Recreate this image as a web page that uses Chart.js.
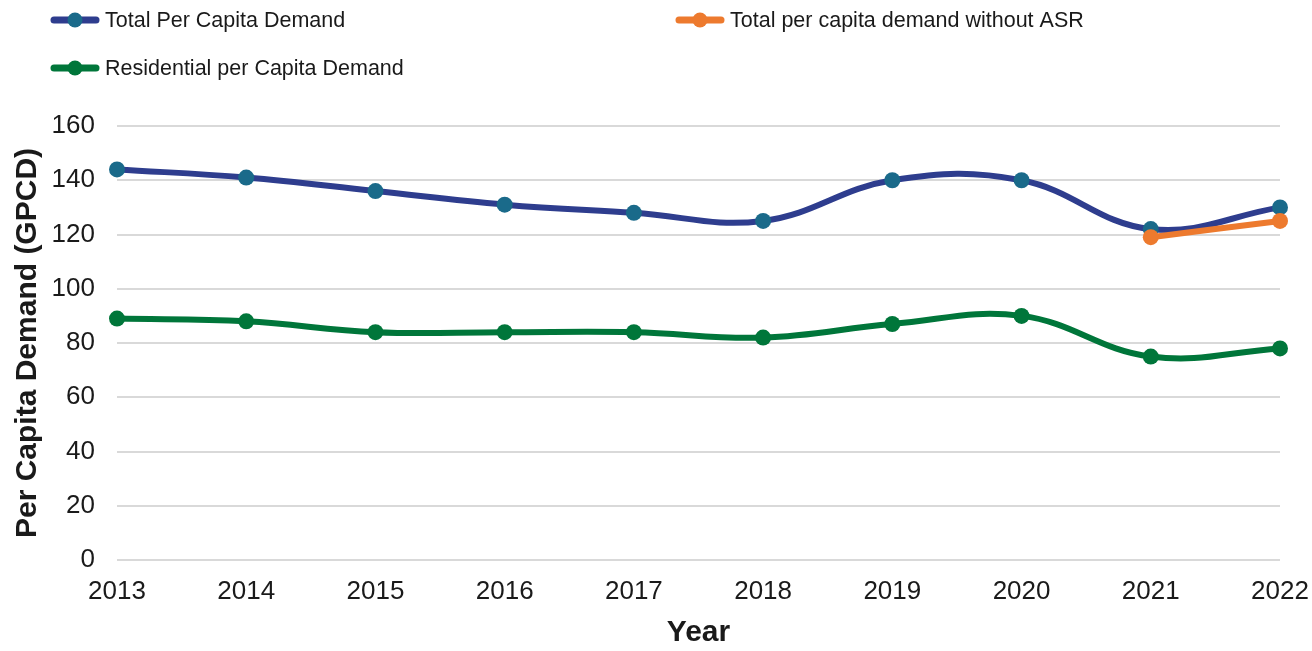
<!DOCTYPE html>
<html>
<head>
<meta charset="utf-8">
<script src="https://cdn.jsdelivr.net/npm/chart.js@4.4.1/dist/chart.umd.min.js"></script>
<style>
html,body{margin:0;padding:0;background:#fff;}
#wrap{position:relative;width:1312px;height:651px;}
</style>
</head>
<body>
<div id="wrap"><canvas id="c" width="1312" height="651"></canvas></div>
<script>
const years = ['2013','2014','2015','2016','2017','2018','2019','2020','2021','2022'];
const totalPerCapita = [144, 141, 136, 131, 128, 125, 140, 140, 122, 130];
const totalWithoutASR = [null, null, null, null, null, null, null, null, 119, 125];
const residentialPerCapita = [89, 88, 84, 84, 84, 82, 87, 90, 75, 78];
const yTicks = [0, 20, 40, 60, 80, 100, 120, 140, 160];

const FONT = "'Liberation Sans', Arial, sans-serif";

const legendPlugin = {
  id: 'gridLegend',
  afterDraw(chart) {
    const ctx = chart.ctx;
    const slots = [{x:50, y:20}, {x:675, y:20}, {x:50, y:68}];
    chart.data.datasets.forEach((ds, i) => {
      const s = slots[i];
      ctx.save();
      ctx.strokeStyle = ds.borderColor;
      ctx.lineWidth = 7;
      ctx.lineCap = 'round';
      ctx.beginPath();
      ctx.moveTo(s.x + 4, s.y);
      ctx.lineTo(s.x + 46, s.y);
      ctx.stroke();
      ctx.fillStyle = ds.pointBackgroundColor;
      ctx.beginPath();
      ctx.arc(s.x + 25, s.y, 7.5, 0, Math.PI * 2);
      ctx.fill();
      ctx.fillStyle = '#1a1a1a';
      ctx.font = '21.5px ' + FONT;
      ctx.textBaseline = 'middle';
      ctx.textAlign = 'left';
      ctx.fillText(ds.label, s.x + 55, s.y + 1);
      ctx.restore();
    });
  }
};

new Chart(document.getElementById('c'), {
  type: 'line',
  data: {
    labels: years,
    datasets: [
      {
        label: 'Total Per Capita Demand',
        data: totalPerCapita,
        borderColor: '#2E3D8E',
        backgroundColor: '#2E3D8E',
        pointBackgroundColor: '#1A6A8A',
        pointBorderColor: '#1A6A8A',
        borderWidth: 6,
        pointRadius: 8,
        pointBorderWidth: 0,
        tension: 0.4,
        order: 2
      },
      {
        label: 'Total per capita demand without ASR',
        data: totalWithoutASR,
        borderColor: '#ED7A2E',
        backgroundColor: '#ED7A2E',
        pointBackgroundColor: '#ED7A2E',
        pointBorderColor: '#ED7A2E',
        borderWidth: 6,
        pointRadius: 8,
        pointBorderWidth: 0,
        tension: 0.4,
        spanGaps: false,
        order: 1
      },
      {
        label: 'Residential per Capita Demand',
        data: residentialPerCapita,
        borderColor: '#00763A',
        backgroundColor: '#00763A',
        pointBackgroundColor: '#00763A',
        pointBorderColor: '#00763A',
        borderWidth: 6,
        pointRadius: 8,
        pointBorderWidth: 0,
        tension: 0.4,
        order: 3
      }
    ]
  },
  options: {
    responsive: false,
    animation: false,
    layout: { padding: { left: 10, right: 32, top: 126, bottom: 0 } },
    plugins: {
      legend: { display: false },
      tooltip: { enabled: false }
    },
    scales: {
      x: {
        offset: false,
        grid: { display: false, drawTicks: false },
        border: { display: false },
        ticks: { color: '#1a1a1a', font: { family: FONT, size: 26 }, padding: 16, maxRotation: 0, autoSkip: false },
        title: { display: true, text: 'Year', color: '#1a1a1a', font: { family: FONT, size: 30, weight: 'bold' }, padding: { top: 0, bottom: 0 } },
        afterFit(scale) { scale.height = 91; scale.paddingLeft = 0; scale.paddingRight = 0; }
      },
      y: {
        min: 0, max: 160,
        afterBuildTicks(scale) { scale.ticks = yTicks.map(v => ({ value: v })); },
        grid: { color: '#d9d9d9', lineWidth: 2, drawTicks: false },
        border: { display: false },
        ticks: { color: '#1a1a1a', font: { family: FONT, size: 26 }, padding: 22 },
        title: { display: true, text: 'Per Capita Demand (GPCD)', color: '#1a1a1a', font: { family: FONT, size: 30, weight: 'bold' }, padding: { top: 0, bottom: 0 } },
        afterFit(scale) { scale.width = 107; scale.paddingTop = 0; scale.paddingBottom = 0; }
      }
    }
  },
  plugins: [legendPlugin]
});
</script>
</body>
</html>
